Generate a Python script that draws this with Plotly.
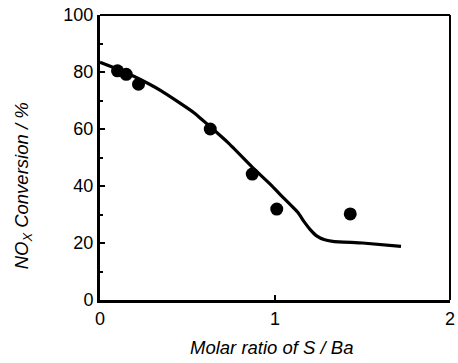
import plotly.graph_objects as go

# Measured points
ratio_pts = [0.10, 0.15, 0.22, 0.63, 0.87, 1.01, 1.43]
conv_pts = [80.4, 79.2, 75.7, 60.0, 44.2, 31.9, 30.2]

# Model curve
ratio_line = [0.0, 0.10, 0.19, 0.35, 0.535, 0.73, 0.88, 0.985, 1.03, 1.13, 1.165, 1.20, 1.24, 1.28, 1.33, 1.50, 1.72]
conv_line = [83.4, 81.0, 78.6, 73.4, 65.8, 55.3, 46.0, 39.9, 37.0, 30.8, 27.6, 24.8, 22.4, 21.2, 20.6, 20.0, 18.8]

x_ticks = [0, 1, 2]
y_ticks = [0, 20, 40, 60, 80, 100]

FONT = "Liberation Sans, Arial, Helvetica, sans-serif"

fig = go.Figure()
fig.add_trace(go.Scatter(x=ratio_line, y=conv_line, mode="lines",
                         line=dict(color="black", width=3.2, shape="spline", smoothing=0.4),
                         showlegend=False))
fig.add_trace(go.Scatter(x=ratio_pts, y=conv_pts, mode="markers",
                         marker=dict(color="black", size=13), showlegend=False))

fig.update_layout(
    width=458, height=363,
    margin=dict(l=100, r=3, t=15, b=63),
    paper_bgcolor="white", plot_bgcolor="white",
    font=dict(family=FONT, color="black", size=18),
    xaxis=dict(range=[0, 2], tickvals=x_ticks, ticks="inside", ticklen=5, tickwidth=2,
               tickcolor="black", showline=True, linewidth=3, linecolor="black",
               showgrid=False, zeroline=False, tickfont=dict(size=18),
               ticklabeloverflow="allow", ticklabelstandoff=0),
    yaxis=dict(range=[0, 100], tickvals=y_ticks, ticks="inside", ticklen=5, tickwidth=2,
               tickcolor="black", showline=True, linewidth=3, linecolor="black",
               showgrid=False, zeroline=False, tickfont=dict(size=18),
               ticklabeloverflow="allow",
               minor=dict(dtick=10, ticks="inside", ticklen=3, tickwidth=1.5, tickcolor="black")),
    shapes=[
        dict(type="line", xref="paper", yref="paper", x0=0, x1=1, y0=1, y1=1,
             line=dict(color="black", width=2)),
        dict(type="line", xref="paper", yref="paper", x0=1, x1=1, y0=0, y1=1,
             line=dict(color="black", width=2)),
    ],
    annotations=[
        dict(text="<i>Molar ratio of S / Ba</i>", xref="paper", yref="paper",
             x=0.49, y=-0.165, xanchor="center", yanchor="middle", showarrow=False,
             font=dict(size=18.5)),
        dict(text="<i>NO<sub>X</sub> Conversion / %</i>", xref="paper", yref="paper",
             x=-0.219, y=0.40, xanchor="center", yanchor="middle", textangle=-90,
             showarrow=False, font=dict(size=18.5)),
    ],
)

fig.write_html("out.html", config={"displayModeBar": False},
               post_script="document.body.style.margin='0';document.body.style.overflow='hidden';")
